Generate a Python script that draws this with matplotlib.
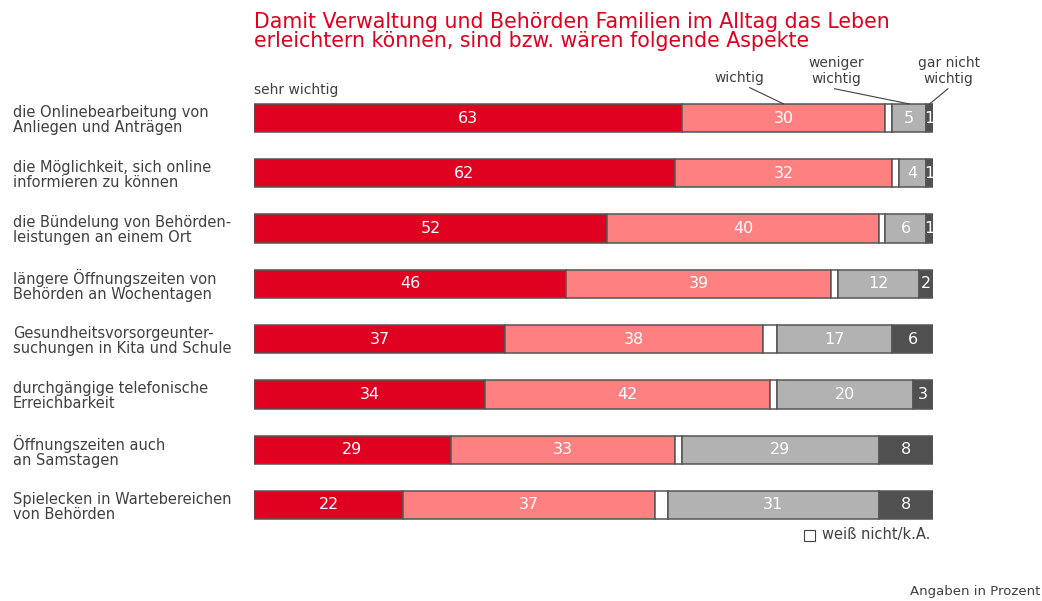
import matplotlib

matplotlib.use("Agg")

import matplotlib.pyplot as plt
import numpy as np

RED = "#E0001F"
SALMON = "#FF8080"
WHITE = "#FFFFFF"
GRAY = "#B2B2B2"
DARK = "#505050"
TEXT = "#404040"

plt.rcParams.update({"font.family": "DejaVu Sans"})

categories = [
    "die Onlinebearbeitung von\nAnliegen und Anträgen",
    "die Möglichkeit, sich online\ninformieren zu können",
    "die Bündelung von Behörden-\nleistungen an einem Ort",
    "längere Öffnungszeiten von\nBehörden an Wochentagen",
    "Gesundheitsvorsorgeunter-\nsuchungen in Kita und Schule",
    "durchgängige telefonische\nErreichbarkeit",
    "Öffnungszeiten auch\nan Samstagen",
    "Spielecken in Wartebereichen\nvon Behörden",
]
sehr_wichtig = [63, 62, 52, 46, 37, 34, 29, 22]
wichtig = [30, 32, 40, 39, 38, 42, 33, 37]
weiss_nicht = [1, 1, 1, 1, 2, 1, 1, 2]
weniger_wichtig = [5, 4, 6, 12, 17, 20, 29, 31]
gar_nicht = [1, 1, 1, 2, 6, 3, 8, 8]

series = [
    (sehr_wichtig, RED, True),
    (wichtig, SALMON, True),
    (weiss_nicht, WHITE, False),
    (weniger_wichtig, GRAY, True),
    (gar_nicht, DARK, True),
]

fig = plt.figure(figsize=(10.42, 6.01), dpi=100)
W, H = 1042, 601
ax = fig.add_axes([254 / W, 1 - 532.6 / H, (933 - 254) / W, 442.2 / H])
ax.set_xlim(0, 100)
ax.set_ylim(7.5, -0.5)
ax.axis("off")

y = np.arange(len(categories))
left = np.zeros(len(categories))
for vals, color, labelled in series:
    vals = np.array(vals, dtype=float)
    ax.barh(y, vals, left=left, height=0.51, color=color,
            edgecolor="#555555", linewidth=1.1)
    if labelled:
        for yi, (l, v) in enumerate(zip(left, vals)):
            ax.text(l + v / 2, yi, f"{int(v)}", ha="center", va="center",
                    color="white", fontsize=11.5)
    left += vals

for yi, cat in enumerate(categories):
    ax.text(-241 / 6.79, yi + 0.03, cat, ha="left", va="center", fontsize=10.5,
            color=TEXT, linespacing=1.0)

# segment annotations on first row
top = -0.255
ax.text(0, -0.38, "sehr wichtig", ha="left", va="bottom", fontsize=10, color=TEXT)
x_w = sehr_wichtig[0] + wichtig[0] / 2
ax.text(71.5, -0.6, "wichtig", ha="center", va="bottom", fontsize=10, color=TEXT)
ax.plot([73.0, x_w], [-0.55, top], color=TEXT, lw=0.8, clip_on=False)
x_g = sehr_wichtig[0] + wichtig[0] + weiss_nicht[0] + weniger_wichtig[0] / 2
ax.text(85.8, -0.58, "weniger\nwichtig", ha="center", va="bottom", fontsize=10,
        color=TEXT, linespacing=1.15)
ax.plot([85.5, x_g], [-0.53, top], color=TEXT, lw=0.8, clip_on=False)
x_d = 100 - gar_nicht[0] / 2
ax.text(102.3, -0.58, "gar nicht\nwichtig", ha="center", va="bottom", fontsize=10,
        color=TEXT, linespacing=1.15)
ax.plot([102.2, x_d], [-0.53, top], color=TEXT, lw=0.8, clip_on=False)

fig.text(254 / W, 1 - 12 / H, "Damit Verwaltung und Behörden Familien im Alltag das Leben\n"
         "erleichtern können, sind bzw. wären folgende Aspekte",
         ha="left", va="top", fontsize=14.8, color=RED, linespacing=0.95)

# legend for white segment
fig.patches.append(plt.Rectangle((804 / W, 1 - 541 / H), 11 / W, 11 / H,
                                 transform=fig.transFigure, facecolor="white",
                                 edgecolor=TEXT, linewidth=0.8))
fig.text(822 / W, 1 - 535 / H, "weiß nicht/k.A.", ha="left", va="center",
         fontsize=10.5, color=TEXT)
fig.text(1040 / W, 1 - 592 / H, "Angaben in Prozent", ha="right", va="center",
         fontsize=9.5, color=TEXT)

fig.savefig("out.png", dpi=100)
